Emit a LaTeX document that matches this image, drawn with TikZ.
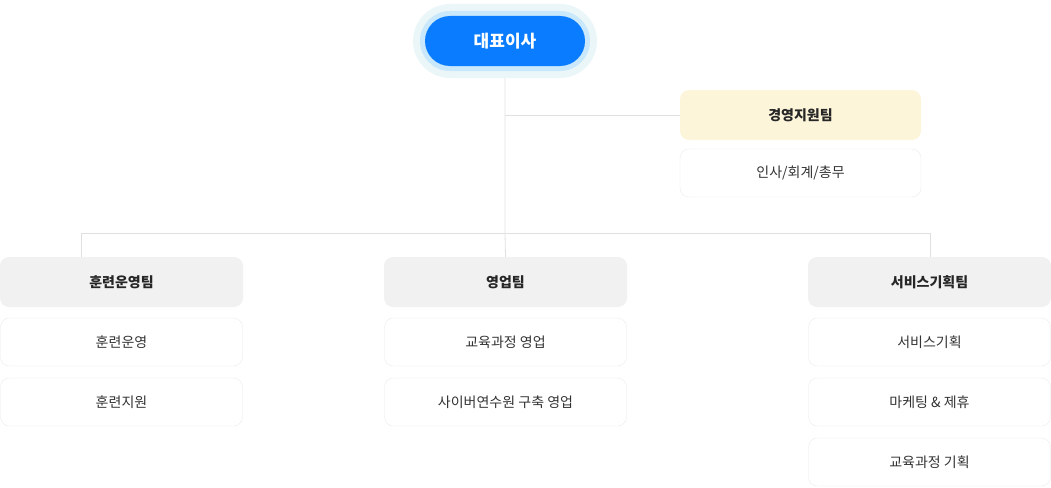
\documentclass[tikz,border=0pt]{standalone}
\usepackage{fontspec}
\setmainfont{Noto Sans CJK KR}
\definecolor{ceo}{HTML}{0A7CFF}
\definecolor{ring}{HTML}{C9E8FB}
\definecolor{halo}{HTML}{EAF6F8}
\definecolor{mgmt}{HTML}{FCF5DA}
\definecolor{hdr}{HTML}{F1F1F1}
\definecolor{bd}{HTML}{EBEBEB}
\definecolor{ln}{HTML}{E0E0E0}
\begin{document}
\begin{tikzpicture}[x=1pt,y=-1pt,
  head/.style={rounded corners=9pt,fill=hdr,minimum width=243pt,minimum height=50pt,inner sep=0,font=\fontsize{14}{16}\selectfont\bfseries,text=black!85},
  item/.style={rounded corners=9pt,draw=bd,fill=white,minimum width=242pt,minimum height=48pt,inner sep=0,font=\fontsize{14}{16}\selectfont,text=black!80},
  conn/.style={draw=ln,line width=0.8pt}]
\useasboundingbox (0,0) rectangle (1051,487);
\node[rounded corners=37pt,fill=halo,minimum width=184pt,minimum height=74pt] (halo) at (505,41) {};
\node[rounded corners=30pt,fill=ring,minimum width=170pt,minimum height=60pt] (ring) at (505,41) {};
\node[rounded corners=25pt,fill=ceo,minimum width=160pt,minimum height=50pt,text=white,font=\fontsize{17}{20}\selectfont\bfseries] (ceo) at (505,41) {대표이사};
\node[head,fill=mgmt,minimum width=241pt] (mg) at (800.5,115) {경영지원팀};
\node[item,minimum width=241pt] (mg1) at (800.5,173) {인사/회계/총무};
\node[head] (t1) at (121.5,282) {훈련운영팀};
\node[item] (t1a) at (121.5,342) {훈련운영};
\node[item] (t1b) at (121.5,402) {훈련지원};
\node[head] (t2) at (505.5,282) {영업팀};
\node[item] (t2a) at (505.5,342) {교육과정 영업};
\node[item] (t2b) at (505.5,402) {사이버연수원 구축 영업};
\node[head] (t3) at (929.5,282) {서비스기획팀};
\node[item] (t3a) at (929.5,342) {서비스기획};
\node[item] (t3b) at (929.5,402) {마케팅 \& 제휴};
\node[item] (t3c) at (929.5,462) {교육과정 기획};
\coordinate (j1) at (505,115);
\coordinate (j2) at (505,233);
\coordinate (jl) at (81,233);
\coordinate (jr) at (930,233);
\begin{scope}[on background layer/.style={}]
\draw[conn] (halo.south) -- (j1) -- (j2) -- (t2.north);
\draw[conn] (j1) -- (mg.west);
\draw[conn] (jl) -- (jr);
\draw[conn] (jl) -- (jl|-t1.north);
\draw[conn] (jr) -- (jr|-t3.north);
\end{scope}
\end{tikzpicture}
\end{document}
